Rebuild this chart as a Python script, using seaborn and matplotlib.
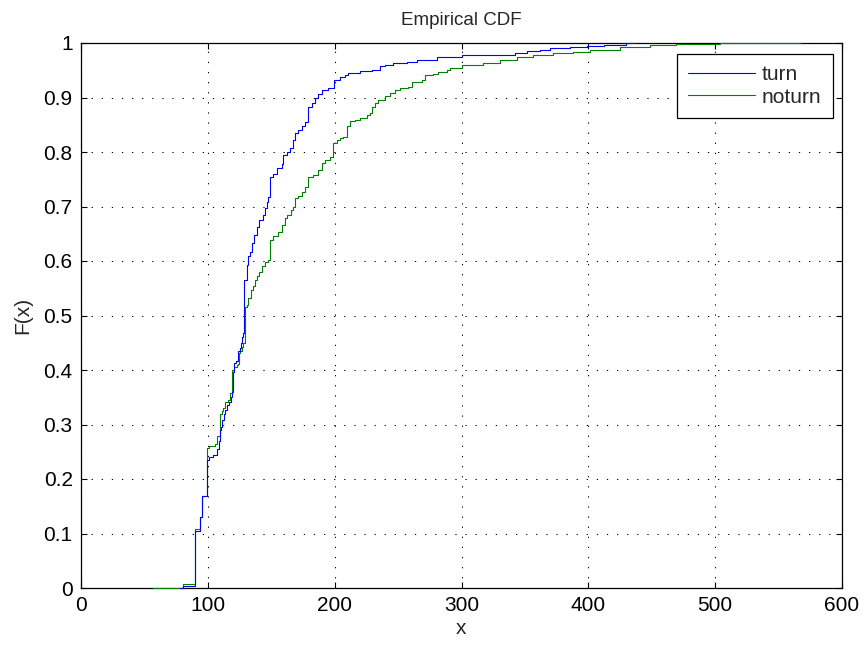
import numpy as np
import pandas as pd
import matplotlib
matplotlib.use("Agg")
import matplotlib.pyplot as plt
import seaborn as sns

# Step points of the empirical CDFs (x where the step occurs, F after the step)
turn_x = [78, 80.5, 90.1, 94.2, 95.2, 99.1, 101, 104, 107.5, 108.5, 109.6, 110.2, 111.5, 113, 113.8,
          115.5, 116.5, 118, 118.8, 119.5, 120.3, 122, 123.6, 125, 125.8, 127, 127.8, 128.8, 130.6,
          131.9, 133.2, 134.5, 136.4, 138.5, 140.3, 143.7, 145.1, 146.4, 147.7, 149, 151.6, 154.3,
          158.2, 159.5, 162.2, 164.8, 167.4, 168.7, 171.3, 174, 176.6, 179.2, 181.9, 184.5, 187.1,
          189.8, 195, 199.5, 204.2, 208.2, 210.8, 220, 229.2, 235.8, 239.7, 246.3, 256.8, 264.7,
          280.4, 291, 300.1, 342.2, 351.4, 361.9, 369.8, 385.6, 398.7, 412, 430, 436]
turn_F = [0, 0.004, 0.105, 0.13, 0.168, 0.235, 0.24, 0.244, 0.255, 0.27, 0.29, 0.296, 0.308, 0.32, 0.327,
          0.336, 0.342, 0.35, 0.36, 0.397, 0.412, 0.416, 0.434, 0.44, 0.449, 0.46, 0.467, 0.565, 0.593,
          0.61, 0.617, 0.633, 0.648, 0.663, 0.675, 0.684, 0.697, 0.709, 0.718, 0.755, 0.76, 0.771,
          0.778, 0.794, 0.80, 0.807, 0.822, 0.834, 0.84, 0.847, 0.855, 0.883, 0.89, 0.899, 0.906,
          0.914, 0.917, 0.932, 0.938, 0.941, 0.945, 0.948, 0.95, 0.957, 0.96, 0.963, 0.966, 0.969,
          0.974, 0.975, 0.978, 0.982, 0.986, 0.988, 0.99, 0.993, 0.994, 0.996, 1.0, 1.0]

noturn_x = [57, 80.5, 90.1, 94.2, 95.2, 99.1, 101.2, 105.7, 107.5, 109.6, 110.9, 112.2, 113.5, 116.2,
            117.5, 118.8, 119.3, 120.3, 122.7, 124, 124.5, 125.3, 126.6, 127.4, 129, 130.6, 131.9,
            133.8, 135.4, 137.2, 139, 140.3, 143, 145.1, 147.7, 149, 151.6, 155.1, 158.2, 160.8,
            162.2, 165.3, 167.4, 168.7, 171.3, 174, 176.6, 179.2, 183.2, 187.1, 189.8, 192.4, 196.3,
            199, 201.6, 204.2, 206.8, 209.5, 212.1, 216, 220, 225.2, 227.9, 229.2, 231.8, 234.4,
            239.7, 243.6, 247.6, 251.5, 258.1, 260.7, 268.6, 271.2, 277.8, 281.7, 288.3, 291, 300.1,
            317.2, 330.4, 343.5, 356.6, 372.4, 388.2, 401, 424.6, 448.3, 469, 503.8, 567]
noturn_F = [0, 0.007, 0.108, 0.13, 0.168, 0.256, 0.26, 0.265, 0.278, 0.32, 0.325, 0.33, 0.342, 0.345,
            0.357, 0.36, 0.40, 0.405, 0.409, 0.411, 0.431, 0.435, 0.443, 0.449, 0.516, 0.52, 0.532,
            0.547, 0.555, 0.565, 0.572, 0.58, 0.59, 0.599, 0.602, 0.639, 0.645, 0.654, 0.666, 0.678,
            0.684, 0.694, 0.70, 0.716, 0.72, 0.727, 0.736, 0.755, 0.758, 0.767, 0.78, 0.786, 0.791,
            0.816, 0.822, 0.825, 0.828, 0.847, 0.856, 0.859, 0.862, 0.867, 0.871, 0.883, 0.889, 0.895,
            0.902, 0.908, 0.914, 0.917, 0.92, 0.929, 0.932, 0.941, 0.944, 0.947, 0.95, 0.955, 0.96,
            0.963, 0.969, 0.974, 0.978, 0.981, 0.984, 0.988, 0.993, 0.996, 0.999, 1.0, 1.0]

x_ticks = [0, 100, 200, 300, 400, 500, 600]
y_ticks = [0, 0.1, 0.2, 0.3, 0.4, 0.5, 0.6, 0.7, 0.8, 0.9, 1]
y_tick_labels = ["0", "0.1", "0.2", "0.3", "0.4", "0.5", "0.6", "0.7", "0.8", "0.9", "1"]

sns.set_style("white")
plt.rcParams["font.family"] = ["Liberation Sans", "DejaVu Sans"]

fig = plt.figure(figsize=(8.66, 6.47), dpi=100)
ax = fig.add_axes([81 / 866, 59 / 647, 761 / 866, 545 / 647])

df_turn = pd.DataFrame({"x": turn_x, "F": turn_F})
df_noturn = pd.DataFrame({"x": noturn_x, "F": noturn_F})

sns.lineplot(data=df_noturn, x="x", y="F", ax=ax, color=(0, 0.5, 0), lw=0.8,
             drawstyle="steps-post", estimator=None, sort=False, label="noturn",
             zorder=3, clip_on=False)
sns.lineplot(data=df_turn, x="x", y="F", ax=ax, color=(0, 0, 1), lw=0.8,
             drawstyle="steps-post", estimator=None, sort=False, label="turn",
             zorder=3.1, clip_on=False)

ax.set_xlim(0, 600)
ax.set_ylim(0, 1)
ax.set_xticks(x_ticks)
ax.set_xticklabels([str(v) for v in x_ticks])
ax.set_yticks(y_ticks)
ax.set_yticklabels(y_tick_labels)

ax.grid(True, color="black", linestyle=(0, (1.2, 8.5)), linewidth=0.75)
for s in ax.spines.values():
    s.set_color("black")
    s.set_linewidth(0.9)
    s.set_visible(True)
    s.set_zorder(2.5)

ax.tick_params(direction="in", length=4.5, width=0.8, top=True, right=True,
               bottom=True, left=True, labelsize=15, colors="black", pad=6)

ax.set_title("Empirical CDF", fontsize=13.5, pad=13)
ax.set_xlabel("x", fontsize=15, labelpad=3)
ax.set_ylabel("F(x)", fontsize=15, labelpad=8)

handles, labels = ax.get_legend_handles_labels()
order = [labels.index("turn"), labels.index("noturn")]
leg = ax.legend([handles[i] for i in order], [labels[i] for i in order],
                loc="upper right", bbox_to_anchor=(833 / 866, 1 - 54 / 647),
                bbox_transform=fig.transFigure, borderaxespad=0, fontsize=15,
                frameon=True, fancybox=False, edgecolor="black", framealpha=1,
                handlelength=3.2, handletextpad=0.35, borderpad=0.55, labelspacing=0.15)
leg.get_frame().set_linewidth(0.9)
leg.set_zorder(5)

fig.savefig("out.png", dpi=100)
